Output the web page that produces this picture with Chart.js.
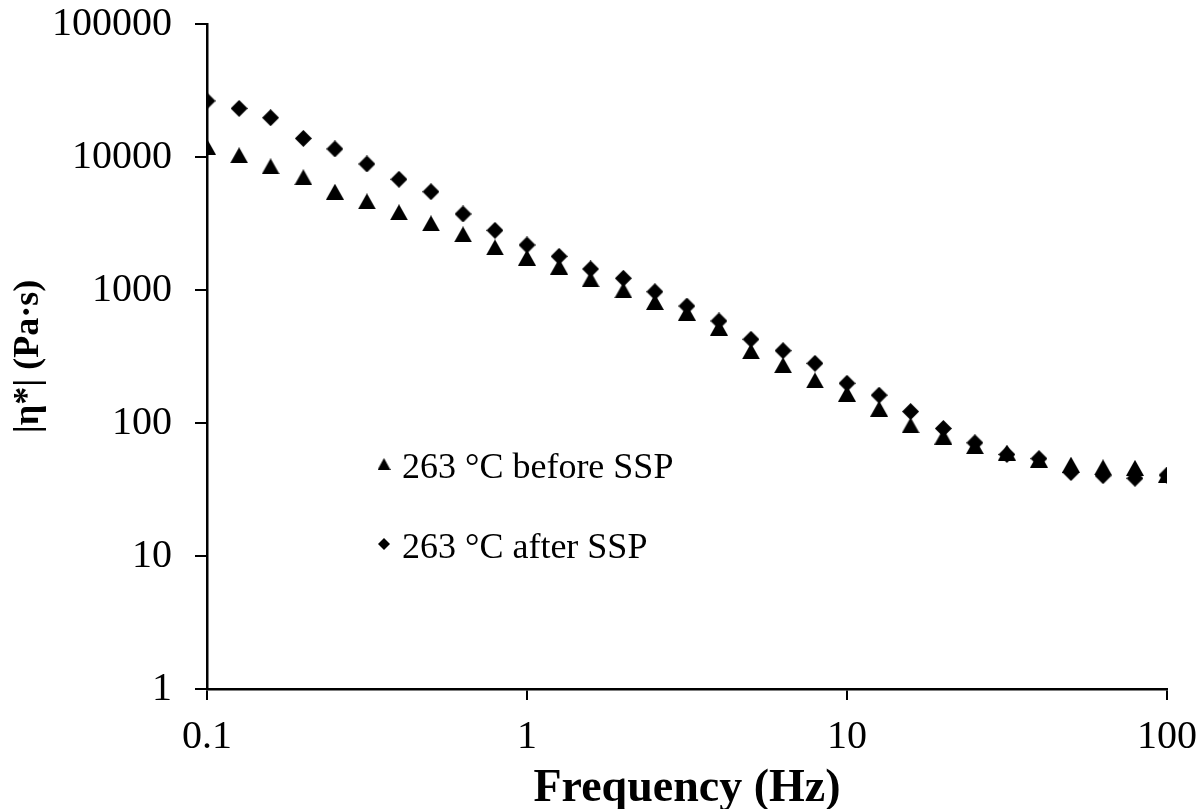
<!DOCTYPE html>
<html>
<head>
<meta charset="utf-8">
<title>|η*| vs frequency</title>
<script src="https://cdn.jsdelivr.net/npm/chart.js@4/dist/chart.umd.min.js"></script>
<style>
  html, body { margin: 0; padding: 0; background: #fff; }
  #wrap { width: 1201px; height: 809px; }
</style>
</head>
<body>
<div id="wrap"><canvas id="viscChart" width="1201" height="809"></canvas></div>
<script>
// frequency sweep, 10 points per decade
const frequency = [
  0.1, 0.126, 0.158, 0.2, 0.251, 0.316, 0.398, 0.501, 0.631, 0.794,
  1, 1.26, 1.58, 2, 2.51, 3.16, 3.98, 5.01, 6.31, 7.94,
  10, 12.6, 15.8, 20, 25.1, 31.6, 39.8, 50.1, 63.1, 79.4, 100,
];

// complex viscosity |η*| in Pa·s
const beforeSSP = [
  11950, 10300, 8510, 7040, 5480, 4640, 3840, 3170, 2620, 2090,
  1750, 1500, 1203, 994, 812, 675, 521, 346, 272, 209,
  166, 128, 96, 79, 67, 60, 53, 48.6, 46.4, 46, 40.9,
];
const afterSSP = [
  26400, 23200, 19750, 13800, 11500, 8860, 6800, 5480, 3730, 2810,
  2180, 1790, 1440, 1225, 971, 758, 585, 426, 350, 281,
  199, 162, 122, 91, 71, 58, 54, 42.4, 40.2, 38.4, 40.6,
];

const seriesLabels = ["263 °C before SSP", "263 °C after SSP"];
const xTicks = [0.1, 1, 10, 100];
const yTicks = [1, 10, 100, 1000, 10000, 100000];

const SERIF = "'Liberation Serif', 'Times New Roman', serif";

// marker sprites: filled triangle and diamond
function makeTriangle(w, h) {
  const c = document.createElement("canvas");
  c.width = w;
  c.height = h;
  const g = c.getContext("2d");
  g.fillStyle = "#000";
  g.beginPath();
  g.moveTo(w / 2, 0);
  g.lineTo(w, h);
  g.lineTo(0, h);
  g.closePath();
  g.fill();
  return c;
}

function makeDiamond(w, h) {
  const c = document.createElement("canvas");
  c.width = w;
  c.height = h;
  const g = c.getContext("2d");
  g.fillStyle = "#000";
  g.beginPath();
  g.moveTo(w / 2, 0);
  g.lineTo(w, h / 2);
  g.lineTo(w / 2, h);
  g.lineTo(0, h / 2);
  g.closePath();
  g.fill();
  return c;
}

const triMarker = makeTriangle(18, 16);
const diaMarker = makeDiamond(17, 17);
const triSmall = makeTriangle(13, 12);
const diaSmall = makeDiamond(12, 12);

// legend sits inside the plot, drawn by hand
const insideLegend = {
  id: "insideLegend",
  afterDatasetsDraw(chart) {
    const ctx = chart.ctx;
    const icons = [triSmall, diaSmall];
    const rows = [469, 549];
    ctx.save();
    ctx.font = "36px " + SERIF;
    ctx.fillStyle = "#000";
    ctx.textBaseline = "middle";
    ctx.textAlign = "left";
    chart.data.datasets.forEach((ds, i) => {
      const icon = icons[i];
      ctx.drawImage(icon, 384 - icon.width / 2, rows[i] - 5 - icon.height / 2);
      ctx.fillText(ds.label, 402, rows[i]);
    });
    ctx.restore();
  },
};

const ctx = document.getElementById("viscChart").getContext("2d");

new Chart(ctx, {
  type: "scatter",
  data: {
    datasets: [
      {
        label: seriesLabels[0],
        data: frequency.map((f, i) => ({ x: f, y: beforeSSP[i] })),
        pointStyle: triMarker,
        pointRadius: 9,
        backgroundColor: "#000",
        borderColor: "#000",
      },
      {
        label: seriesLabels[1],
        data: frequency.map((f, i) => ({ x: f, y: afterSSP[i] })),
        pointStyle: diaMarker,
        pointRadius: 9,
        backgroundColor: "#000",
        borderColor: "#000",
      },
    ],
  },
  options: {
    responsive: false,
    animation: false,
    layout: {
      padding: { top: 24, right: 34, bottom: 0, left: 0 },
    },
    plugins: {
      legend: { display: false },
      tooltip: { enabled: false },
    },
    scales: {
      x: {
        type: "logarithmic",
        min: 0.1,
        max: 100,
        afterBuildTicks: (scale) => {
          scale.ticks = xTicks.map((v) => ({ value: v }));
        },
        afterFit: (scale) => {
          scale.height = 120;
          scale.paddingLeft = 0;
          scale.paddingRight = 0;
        },
        ticks: {
          autoSkip: false,
          maxRotation: 0,
          padding: 13,
          color: "#000",
          font: { family: SERIF, size: 40 },
          callback: (v) => String(v),
        },
        grid: {
          drawOnChartArea: false,
          drawTicks: true,
          tickLength: 11,
          lineWidth: 2,
          color: "#000",
        },
        border: { display: true, color: "#000", width: 2.5 },
        title: {
          display: true,
          text: "Frequency (Hz)",
          color: "#000",
          font: { family: SERIF, size: 46, weight: "bold", lineHeight: 0.85 },
          padding: { top: 0, bottom: 0 },
        },
      },
      y: {
        type: "logarithmic",
        min: 1,
        max: 100000,
        afterBuildTicks: (scale) => {
          scale.ticks = yTicks.map((v) => ({ value: v }));
        },
        afterFit: (scale) => {
          scale.width = 207;
          scale.paddingTop = 0;
          scale.paddingBottom = 0;
        },
        ticks: {
          autoSkip: false,
          padding: 23,
          color: "#000",
          font: { family: SERIF, size: 40 },
          callback: (v) => String(v),
        },
        grid: {
          drawOnChartArea: false,
          drawTicks: true,
          tickLength: 12,
          lineWidth: 2,
          color: "#000",
        },
        border: { display: true, color: "#000", width: 2.5 },
        title: {
          display: true,
          text: "|η*| (Pa·s)",
          color: "#000",
          font: { family: SERIF, size: 36, weight: "bold" },
          padding: { top: 7, bottom: 0 },
        },
      },
    },
  },
  plugins: [insideLegend],
});
</script>
</body>
</html>
